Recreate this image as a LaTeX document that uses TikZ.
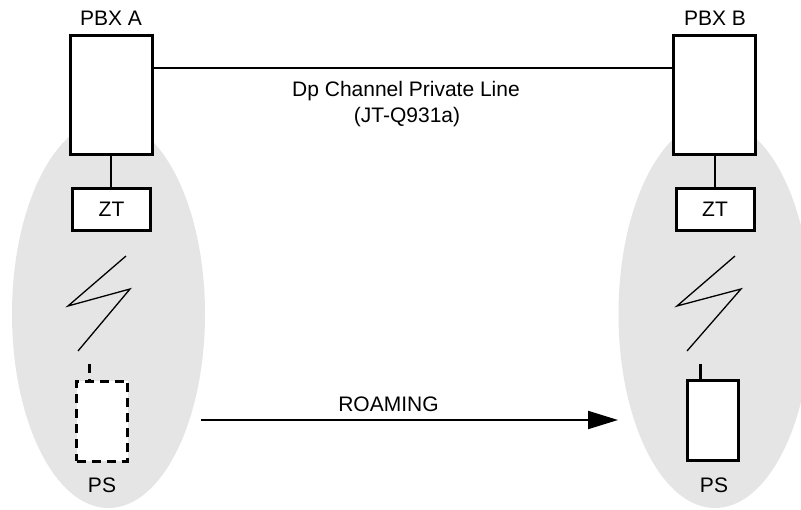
\documentclass[tikz,border=0pt]{standalone}
\usepackage{fontspec}
\setmainfont{Liberation Sans}
\usetikzlibrary{arrows.meta}
\begin{document}
\begin{tikzpicture}[x=1pt,y=-1pt,
  lbl/.style={anchor=base,inner sep=0pt,font=\fontsize{21}{25}\selectfont},
  unit/.style={draw,fill=white,line width=3pt,inner sep=0pt},
  pbx/.style={unit,minimum width=82pt,minimum height=119pt},
  ztbox/.style={unit,minimum width=78pt,minimum height=42pt,font=\fontsize{21}{25}\selectfont},
  psbox/.style={unit,minimum width=51pt,minimum height=80pt},
  wire/.style={line width=2pt},
  bolt/.style={line width=1.3pt,line join=miter},
  cell/.style={fill=gray!20}]
\clip (0,0) rectangle (801,510);
\fill[white] (0,0) rectangle (801,510);

% radio cells
\fill[cell] (108.5,314) ellipse [x radius=96.5pt, y radius=194pt];
\fill[cell] (715,314) ellipse [x radius=96.5pt, y radius=194pt];

% exchanges
\node[pbx] (pbxA) at (111.5,95) {};
\node[pbx] (pbxB) at (714,95) {};
\node[lbl] (labA) at (111,26) {PBX A};
\node[lbl] (labB) at (715,26) {PBX B};

% private line between the exchanges
\draw[wire] ([yshift=-34pt]pbxA.north east) -- ([yshift=-34pt]pbxB.north west);
\node[lbl] (dp) at (406,97) {Dp Channel Private Line};
\node[lbl] (jt) at (407,123) {(JT-Q931a)};

% base stations
\node[ztbox] (ztA) at (111.5,209.5) {ZT};
\node[ztbox] (ztB) at (715,209.5) {ZT};
\draw[wire] (pbxA.south -| 111,0) -- (ztA.north -| 111,0);
\draw[wire] (pbxB.south -| 715,0) -- (ztB.north -| 715,0);

% radio links
\draw[bolt] (126,256) -- (68,306) -- (130,289) -- (78,351);
\draw[bolt] (735,256) -- (677,306) -- (741,289) -- (687,351);

% personal stations
\node[psbox,dashed,dash pattern=on 9pt off 6pt] (psA) at (102,421.5) {};
\node[psbox] (psB) at (713,421) {};
\coordinate (antA) at (89,364);
\coordinate (antB) at (700,364);
\draw[line width=3pt,dash pattern=on 9pt off 6pt] (antA) -- (antA |- psA.north);
\draw[line width=3pt] (antB) -- (antB |- psB.north);
\node[lbl] (psLA) at (102,493) {PS};
\node[lbl] (psLB) at (714,493) {PS};

% roaming
\coordinate (roamS) at (201,420);
\coordinate (roamE) at (618,420);
\draw[wire,-{Triangle[length=30pt,width=18pt]}] (roamS) -- (roamE);
\node[lbl] (roam) at (388.5,412) {ROAMING};
\end{tikzpicture}
\end{document}
